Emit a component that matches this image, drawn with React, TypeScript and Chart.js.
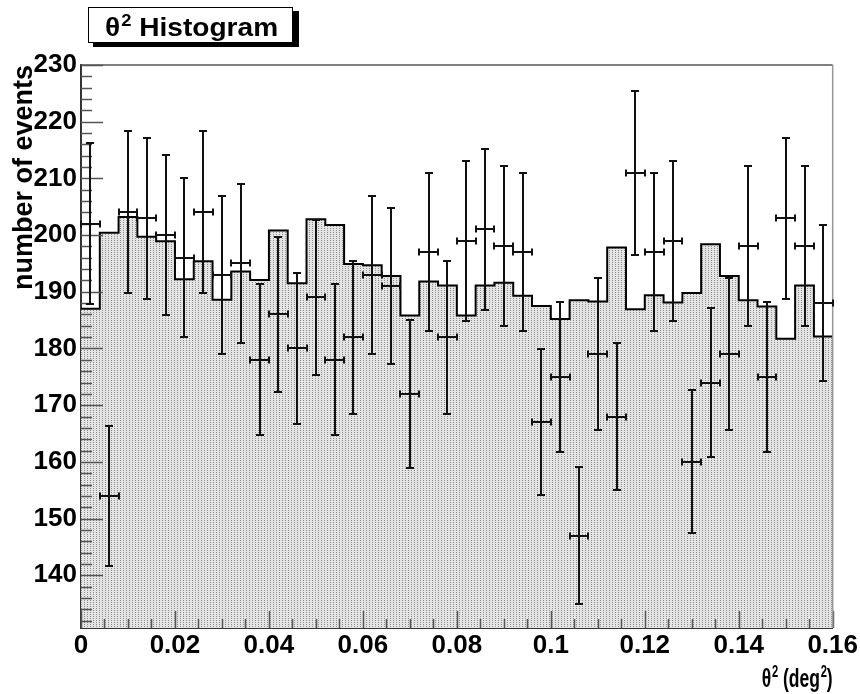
import React, { useEffect, useRef } from "react";
import { Chart, registerables } from "chart.js";

Chart.register(...registerables);

// ---------------- data ----------------
const binLowEdges = [
  0, 0.004, 0.008, 0.012, 0.016, 0.02, 0.024, 0.028, 0.032, 0.036,
  0.04, 0.044, 0.048, 0.052, 0.056, 0.06, 0.064, 0.068, 0.072, 0.076,
  0.08, 0.084, 0.088, 0.092, 0.096, 0.1, 0.104, 0.108, 0.112, 0.116,
  0.12, 0.124, 0.128, 0.132, 0.136, 0.14, 0.144, 0.148, 0.152, 0.156,
];
const xUpperEdge = 0.16;
const binCenters = [
  0.002, 0.006, 0.01, 0.014, 0.018, 0.022, 0.026, 0.03, 0.034, 0.038,
  0.042, 0.046, 0.05, 0.054, 0.058, 0.062, 0.066, 0.07, 0.074, 0.078,
  0.082, 0.086, 0.09, 0.094, 0.098, 0.102, 0.106, 0.11, 0.114, 0.118,
  0.122, 0.126, 0.13, 0.134, 0.138, 0.142, 0.146, 0.15, 0.154, 0.158,
];
// background histogram (filled step line)
const histogramCounts = [
  187.0, 200.4, 203.2, 199.7, 198.9, 192.2, 195.4, 188.6, 193.6, 192.1,
  200.8, 191.5, 202.8, 201.8, 194.9, 194.7, 192.8, 185.8, 191.8, 191.1,
  185.8, 191.1, 191.6, 189.3, 187.5, 185.2, 188.5, 188.3, 197.8, 186.9,
  189.4, 188.1, 189.8, 198.4, 192.8, 188.5, 187.4, 181.7, 191.1, 182.1,
];
// measured points with error bars
const observedCounts = [
  202, 154, 204, 203, 200, 196, 204, 193, 195, 178,
  186, 180, 189, 178, 182, 193, 191, 172, 197, 182,
  199, 201, 198, 197, 167, 175, 147, 179, 168, 211,
  197, 199, 160, 174, 179, 198, 175, 203, 198, 188,
];
const observedErrors = [
  14.2, 12.4, 14.3, 14.2, 14.1, 14.0, 14.3, 13.9, 14.0, 13.3,
  13.6, 13.4, 13.7, 13.3, 13.5, 13.9, 13.8, 13.1, 14.0, 13.5,
  14.1, 14.2, 14.1, 14.0, 12.9, 13.2, 12.1, 13.4, 13.0, 14.5,
  14.0, 14.1, 12.6, 13.2, 13.4, 14.1, 13.2, 14.2, 14.1, 13.7,
];
const xTickValues = [0, 0.02, 0.04, 0.06, 0.08, 0.1, 0.12, 0.14, 0.16];
const yTickValues = [140, 150, 160, 170, 180, 190, 200, 210, 220, 230];
const BIN_WIDTH = 0.004;
const Y_MIN = 130.7;
const Y_MAX = 230;

const FONT = "'Liberation Sans', Arial, Helvetica, sans-serif";

type Part = { t: string; sup: boolean };
const titleParts: Part[] = [
  { t: "θ", sup: false },
  { t: "2", sup: true },
  { t: " Histogram", sup: false },
];
const xTitleParts: Part[] = [
  { t: "θ", sup: false },
  { t: "2", sup: true },
  { t: " (deg", sup: false },
  { t: "2", sup: true },
  { t: ")", sup: false },
];

function drawRich(
  ctx: CanvasRenderingContext2D,
  parts: Part[],
  x: number,
  baseline: number,
  size: number,
  sx: number,
  alignRight: boolean
) {
  const supSize = Math.round(size * 0.65);
  const measure = () => {
    let w = 0;
    for (const p of parts) {
      ctx.font = `bold ${p.sup ? supSize : size}px ${FONT}`;
      w += ctx.measureText(p.t).width + (p.sup ? 1 : 0);
    }
    return w;
  };
  ctx.save();
  ctx.textBaseline = "alphabetic";
  ctx.textAlign = "left";
  ctx.fillStyle = "#000";
  const total = measure() * sx;
  ctx.translate(alignRight ? x - total : x, baseline);
  ctx.scale(sx, 1);
  let cx = 0;
  for (const p of parts) {
    ctx.font = `bold ${p.sup ? supSize : size}px ${FONT}`;
    if (p.sup) {
      ctx.fillText(p.t, cx + 1, -size * 0.4);
      cx += ctx.measureText(p.t).width + 1;
    } else {
      ctx.fillText(p.t, cx, 0);
      cx += ctx.measureText(p.t).width;
    }
  }
  ctx.restore();
}

function makePattern(): CanvasPattern | string {
  const c = document.createElement("canvas");
  c.width = 3;
  c.height = 2;
  const g = c.getContext("2d");
  if (!g) return "#d6d6d6";
  g.fillStyle = "#e4e4e4";
  g.fillRect(0, 0, 3, 2);
  g.fillStyle = "#8e8e8e";
  g.fillRect(0, 0, 1, 1);
  const p = g.createPattern(c, "repeat");
  return p || "#d6d6d6";
}

export default function App() {
  const ref = useRef<HTMLCanvasElement>(null);

  useEffect(() => {
    const canvas = ref.current;
    if (!canvas) return;
    const pattern = makePattern();

    const histPoints = binLowEdges.map((x, i) => ({ x, y: histogramCounts[i] }));
    histPoints.push({ x: xUpperEdge, y: histogramCounts[histogramCounts.length - 1] });
    const dataPoints = binCenters.map((x, i) => ({ x, y: observedCounts[i] }));

    const rootStyle = {
      id: "rootStyle",
      afterDatasetsDraw(chart: any) {
        const { ctx, chartArea: a, scales } = chart;
        const xs = scales.x;
        const ys = scales.y;
        ctx.save();

        // inward ticks (ROOT style)
        ctx.strokeStyle = "#555";
        ctx.lineWidth = 1.5;
        ctx.beginPath();
        for (let k = 0; k <= 49; k++) {
          const v = 132 + 2 * k;
          if (v > Y_MAX) break;
          const p = Math.round(ys.getPixelForValue(v)) + 0.5;
          const len = v % 10 === 0 ? 22 : 11;
          ctx.moveTo(a.left, p);
          ctx.lineTo(a.left + len, p);
        }
        for (let k = 0; k <= 32; k++) {
          const v = k * 0.005;
          const p = Math.round(xs.getPixelForValue(v)) + 0.5;
          const len = k % 4 === 0 ? 17 : 9;
          ctx.moveTo(p, a.bottom);
          ctx.lineTo(p, a.bottom - len);
        }
        ctx.stroke();

        // frame top / right
        ctx.strokeStyle = "#555";
        ctx.lineWidth = 1.5;
        ctx.beginPath();
        ctx.moveTo(a.left, a.top);
        ctx.lineTo(a.right, a.top);
        ctx.stroke();
        ctx.strokeStyle = "#999";
        ctx.beginPath();
        ctx.moveTo(a.right, a.top);
        ctx.lineTo(a.right, a.bottom);
        ctx.stroke();

        // error bars for the observed points
        const meta = chart.getDatasetMeta(1);
        ctx.strokeStyle = "#111";
        ctx.lineWidth = 2;
        ctx.beginPath();
        meta.data.forEach((_el: any, i: number) => {
          const cx = binCenters[i];
          const n = observedCounts[i];
          const e = observedErrors[i];
          const px = Math.round(xs.getPixelForValue(cx));
          const py = Math.round(ys.getPixelForValue(n));
          const top = Math.round(ys.getPixelForValue(n + e));
          const bot = Math.round(ys.getPixelForValue(n - e));
          const l = Math.round(xs.getPixelForValue(cx - BIN_WIDTH / 2));
          const r = Math.round(xs.getPixelForValue(cx + BIN_WIDTH / 2));
          ctx.moveTo(px, top);
          ctx.lineTo(px, bot);
          ctx.moveTo(l, py);
          ctx.lineTo(r, py);
          ctx.moveTo(px - 4, top);
          ctx.lineTo(px + 4, top);
          ctx.moveTo(px - 4, bot);
          ctx.lineTo(px + 4, bot);
          ctx.moveTo(l, py - 3.5);
          ctx.lineTo(l, py + 3.5);
          ctx.moveTo(r, py - 3.5);
          ctx.lineTo(r, py + 3.5);
        });
        ctx.stroke();
        ctx.restore();
      },
      afterDraw(chart: any) {
        const ctx = chart.ctx as CanvasRenderingContext2D;
        const a = chart.chartArea;
        ctx.save();
        // title box with shadow
        ctx.fillStyle = "#000";
        ctx.fillRect(93, 11, 206, 36);
        ctx.fillStyle = "#fff";
        ctx.fillRect(88, 7, 205, 36);
        ctx.strokeStyle = "#000";
        ctx.lineWidth = 1;
        ctx.strokeRect(88.5, 7.5, 204, 35);
        ctx.restore();
        drawRich(ctx, titleParts, 105, 36, 26, 1.08, false);
        // x-axis title, right aligned at the frame edge
        drawRich(ctx, xTitleParts, a.right, 687, 25, 0.7, true);
      },
    };

    const chart = new Chart(canvas, {
      type: "line",
      data: {
        datasets: [
          {
            type: "line",
            label: "histogram",
            data: histPoints,
            stepped: "before",
            fill: "start",
            backgroundColor: pattern as any,
            borderColor: "#000",
            borderWidth: 2,
            pointRadius: 0,
            tension: 0,
          },
          {
            type: "scatter",
            label: "data",
            data: dataPoints,
            pointRadius: 0,
            showLine: false,
            borderColor: "#000",
            backgroundColor: "#000",
          },
        ],
      },
      options: {
        animation: false,
        responsive: true,
        maintainAspectRatio: false,
        devicePixelRatio: 1,
        layout: { padding: { top: 65, right: 27, left: 0, bottom: 0 } },
        plugins: {
          legend: { display: false },
          tooltip: { enabled: false },
        },
        scales: {
          x: {
            type: "linear",
            min: 0,
            max: xUpperEdge,
            afterBuildTicks: (axis: any) => {
              axis.ticks = xTickValues.map((v) => ({ value: v }));
            },
            afterFit: (scale: any) => {
              scale.height = 66;
            },
            ticks: {
              autoSkip: false,
              maxRotation: 0,
              padding: 2,
              color: "#000",
              font: { family: FONT, size: 26, weight: "bold" },
              callback: (v: any) => `${+Number(v).toFixed(2)}`,
            },
            grid: { display: false, drawTicks: false },
            border: { display: true, color: "#333", width: 2 },
            title: { display: false },
          },
          y: {
            type: "linear",
            min: Y_MIN,
            max: Y_MAX,
            afterBuildTicks: (axis: any) => {
              axis.ticks = yTickValues.map((v) => ({ value: v }));
            },
            afterFit: (scale: any) => {
              scale.width = 81;
            },
            ticks: {
              autoSkip: false,
              padding: 4,
              color: "#000",
              font: { family: FONT, size: 26, weight: "bold" },
              callback: (v: any) => `${v}`,
            },
            grid: { display: false, drawTicks: false },
            border: { display: true, color: "#333", width: 2 },
            title: {
              display: true,
              text: "number of events",
              align: "end",
              color: "#000",
              font: { family: FONT, size: 27, weight: "bold" },
              padding: { top: 8, bottom: 0 },
            },
          },
        },
      },
      plugins: [rootStyle],
    } as any);

    return () => chart.destroy();
  }, []);

  return (
    <div style={{ position: "absolute", left: 0, top: 0, width: 860, height: 694, background: "#fff" }}>
      <canvas ref={ref} />
    </div>
  );
}
